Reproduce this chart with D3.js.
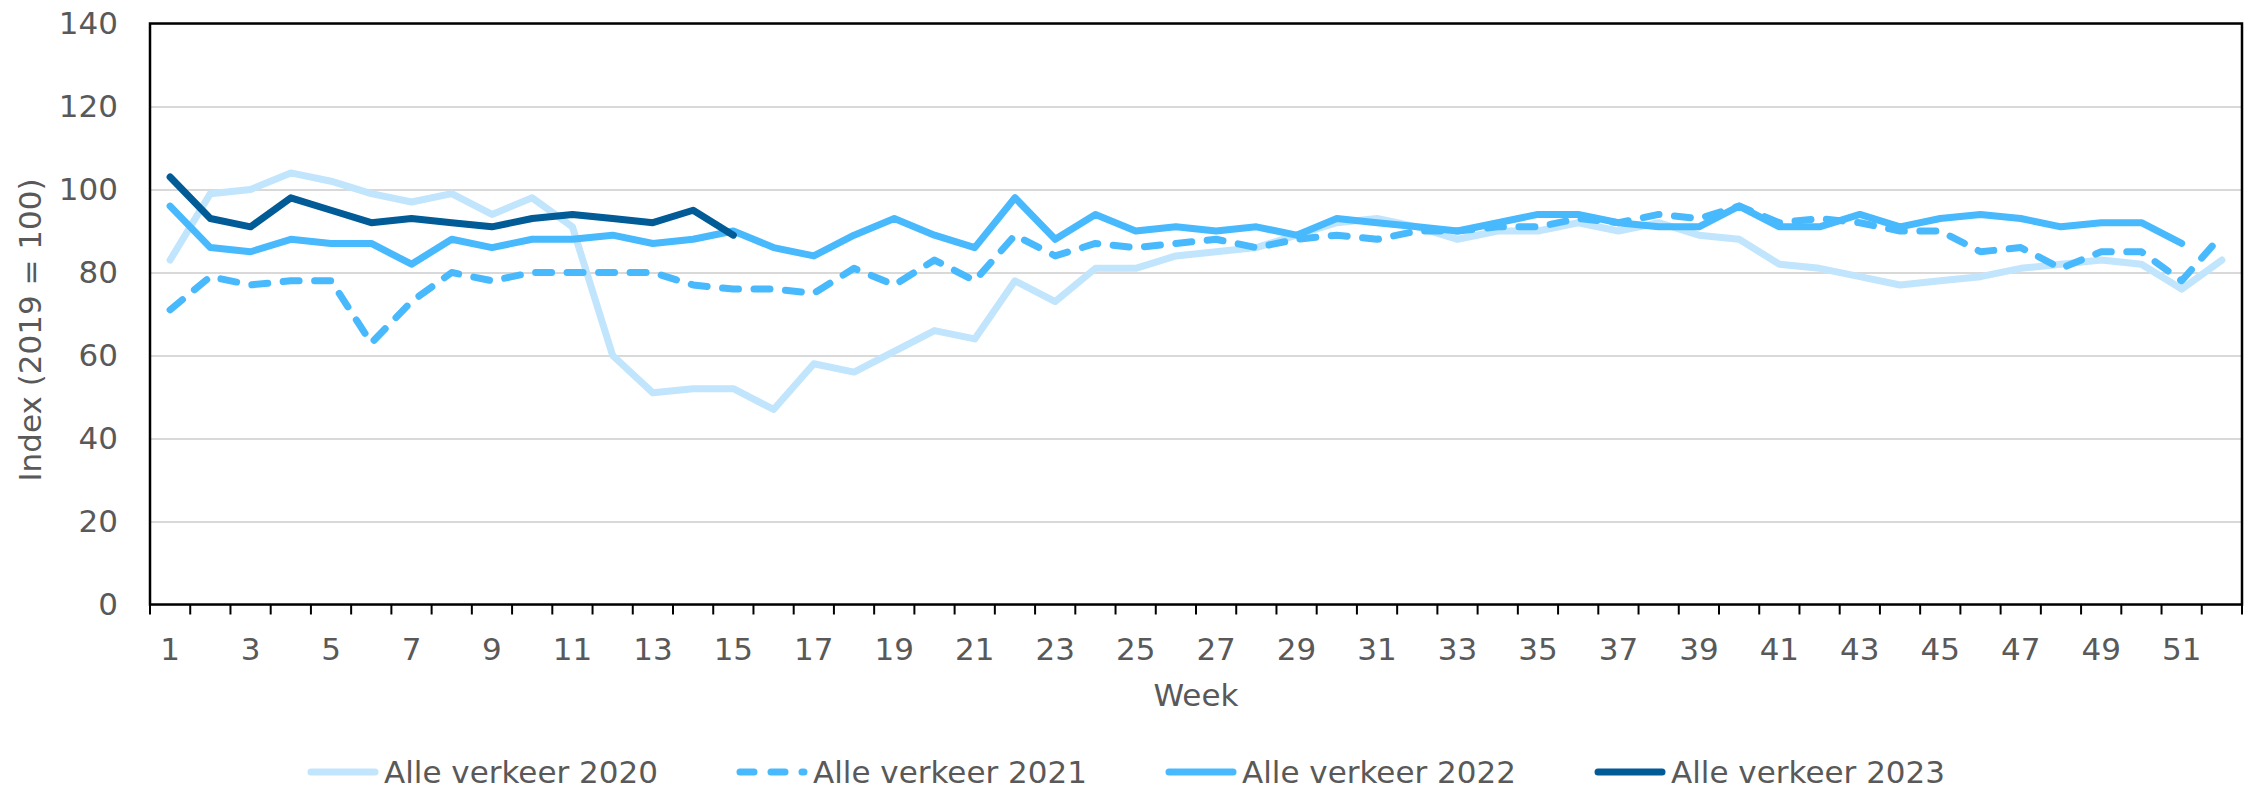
<!DOCTYPE html>
<html>
<head>
<meta charset="utf-8">
<script src="https://cdn.jsdelivr.net/npm/d3@7"></script>
<style>
  body { margin: 0; background: #fff; }
  text { font-family: 'DejaVu Sans', Verdana, sans-serif; fill: #595959; }
</style>
</head>
<body>
<div id="chart"></div>
<script>
// weeks and index values (2019 = 100)
var weeks = d3.range(1, 53);
var yTicks = [0, 20, 40, 60, 80, 100, 120, 140];

var verkeer2020 = [83, 99, 100, 104, 102, 99, 97, 99, 94, 98, 91, 60, 51, 52, 52, 47, 58, 56, 61, 66,
	64, 78, 73, 81, 81, 84, 85, 86, 89, 92, 93, 91, 88, 90, 90, 92, 90, 92, 89, 88,
	82, 81, 79, 77, 78, 79, 81, 82, 83, 82, 76, 83];
var verkeer2021 = [71, 79, 77, 78, 78, 63, 73, 80, 78, 80, 80, 80, 80, 77, 76, 76, 75, 81, 77, 83,
	78, 89, 84, 87, 86, 87, 88, 86, 88, 89, 88, 90, 90, 91, 91, 93, 92, 94, 93, 96,
	92, 93, 92, 90, 90, 85, 86, 81, 85, 85, 78, 89];
var verkeer2022 = [96, 86, 85, 88, 87, 87, 82, 88, 86, 88, 88, 89, 87, 88, 90, 86, 84, 89, 93, 89,
	86, 98, 88, 94, 90, 91, 90, 91, 89, 93, 92, 91, 90, 92, 94, 94, 92, 91, 91, 96,
	91, 91, 94, 91, 93, 94, 93, 91, 92, 92, 87];
var verkeer2023 = [103, 93, 91, 98, 95, 92, 93, 92, 91, 93, 94, 93, 92, 95, 89];

var seriesNames = ['Alle verkeer 2020', 'Alle verkeer 2021', 'Alle verkeer 2022', 'Alle verkeer 2023'];
var seriesColors = ['#c1e5fc', '#48b9fd', '#48b9fd', '#005b96'];
var seriesDash = [null, '16,15.5', null, null];

const chartWidth = 2252;
const chartHeight = 789;
const plotLeft = 150, plotRight = 2242, plotTop = 23.5, plotBottom = 604.5;
const lineWidth = 7;

var svg = d3.select('#chart')
	.append('svg')
	.attr('width', chartWidth)
	.attr('height', chartHeight);

var xScale = d3.scaleBand()
	.domain(weeks)
	.range([plotLeft, plotRight]);

var yScale = d3.scaleLinear()
	.domain([0, 140])
	.range([plotBottom, plotTop]);

// gridlines + y labels
var yAxis = svg.append('g')
	.attr('transform', `translate(${plotLeft},0)`)
	.call(d3.axisLeft(yScale).tickValues(yTicks).tickSize(-(plotRight - plotLeft)).tickPadding(32));
yAxis.select('.domain').remove();
yAxis.selectAll('line')
	.attr('stroke', '#d9d9d9')
	.attr('stroke-width', 2);
yAxis.selectAll('text')
	.style('font-size', '31px')
	.attr('fill', '#595959');

// x labels, every other week
var xAxis = svg.append('g')
	.attr('transform', `translate(0,${plotBottom})`)
	.call(d3.axisBottom(xScale).tickSize(0).tickPadding(33)
		.tickFormat(d => d % 2 === 1 ? d : ''));
xAxis.select('.domain').remove();
xAxis.selectAll('text')
	.style('font-size', '31px')
	.attr('fill', '#595959');

// tick marks between categories
var boundaries = weeks.map(d => xScale(d)).concat([plotRight]);
svg.append('g')
	.selectAll('line')
	.data(boundaries)
	.enter()
	.append('line')
	.attr('x1', d => d)
	.attr('x2', d => d)
	.attr('y1', plotBottom)
	.attr('y2', plotBottom + 10)
	.attr('stroke', '#000')
	.attr('stroke-width', 2);

// lines
var allSeries = [verkeer2020, verkeer2021, verkeer2022, verkeer2023];
var line = d3.line()
	.x((d, i) => xScale(weeks[i]) + xScale.bandwidth() / 2)
	.y(d => yScale(d));

svg.append('g')
	.selectAll('path')
	.data(allSeries)
	.enter()
	.append('path')
	.attr('d', d => line(d))
	.attr('fill', 'none')
	.attr('stroke', (d, i) => seriesColors[i])
	.attr('stroke-width', lineWidth)
	.attr('stroke-linejoin', 'round')
	.attr('stroke-linecap', 'round')
	.attr('stroke-dasharray', (d, i) => seriesDash[i]);

// plot border
svg.append('rect')
	.attr('x', plotLeft)
	.attr('y', plotTop)
	.attr('width', plotRight - plotLeft)
	.attr('height', plotBottom - plotTop)
	.attr('fill', 'none')
	.attr('stroke', '#000')
	.attr('stroke-width', 2.5);

// axis titles
svg.append('text')
	.attr('x', (plotLeft + plotRight) / 2)
	.attr('y', 706)
	.attr('text-anchor', 'middle')
	.style('font-size', '31px')
	.text('Week');

svg.append('text')
	.attr('transform', 'translate(41,330) rotate(-90)')
	.attr('text-anchor', 'middle')
	.style('font-size', '31px')
	.text('Index (2019 = 100)');

// legend
var swatch = 72, swatchGap = 5, itemGap = 78;
var legend = svg.append('g');
var items = legend.selectAll('g')
	.data(seriesNames)
	.enter()
	.append('g');

items.append('line')
	.attr('x1', 4)
	.attr('x2', swatch - 4)
	.attr('y1', 772)
	.attr('y2', 772)
	.attr('stroke', (d, i) => seriesColors[i])
	.attr('stroke-width', lineWidth)
	.attr('stroke-linecap', 'round')
	.attr('stroke-dasharray', (d, i) => seriesDash[i] ? '14,17' : null);

items.append('text')
	.attr('x', swatch + swatchGap)
	.attr('y', 783)
	.style('font-size', '31px')
	.text(d => d);

var widths = [];
items.each(function() {
	widths.push(swatch + swatchGap + d3.select(this).select('text').node().getComputedTextLength());
});
var total = d3.sum(widths) + itemGap * (widths.length - 1);
var pos = chartWidth / 2 - total / 2;
items.attr('transform', (d, i) => {
	var x = pos;
	pos += widths[i] + itemGap;
	return `translate(${x},0)`;
});
</script>
</body>
</html>
